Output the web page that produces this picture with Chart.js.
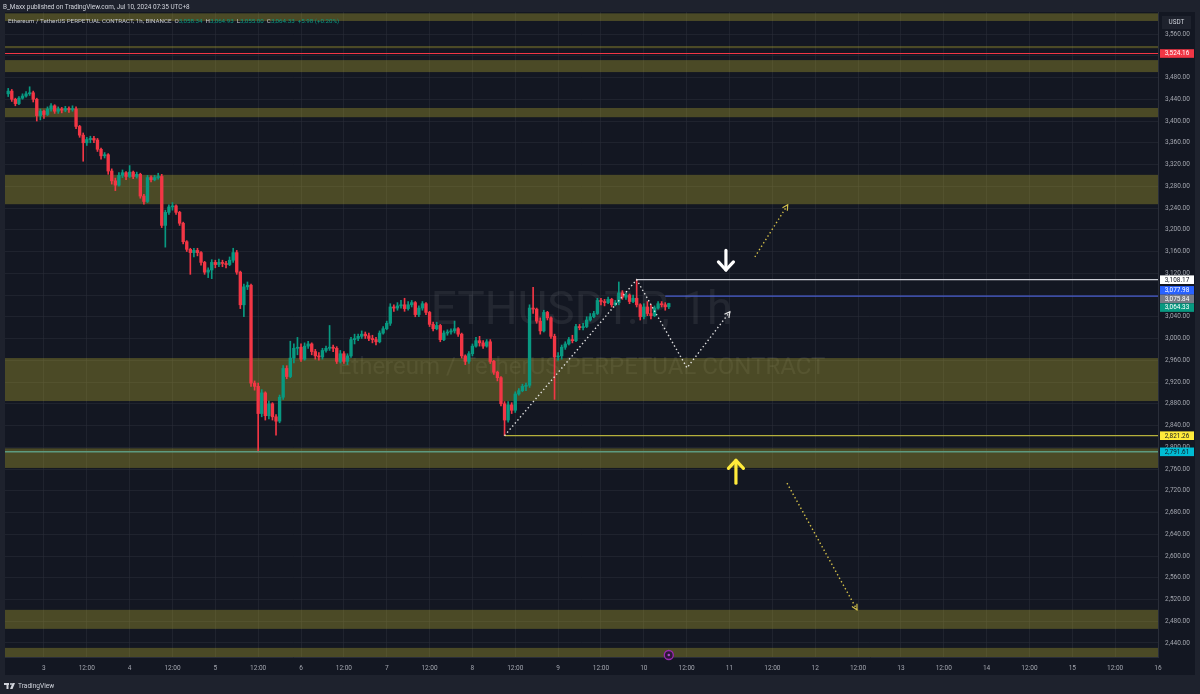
<!DOCTYPE html>
<html>
<head>
<meta charset="utf-8">
<script src="https://cdn.jsdelivr.net/npm/chart.js@4.4.1/dist/chart.umd.min.js"></script>
<style>
  html, body { margin: 0; padding: 0; background: #1e222d; overflow: hidden; }
  canvas { display: block; }
</style>
</head>
<body>
<canvas id="grafico" width="1200" height="694"></canvas>
<script>
// ETHUSDT.P 1h, Jul 2 14:00 -> Jul 10 07:00 (hours counted from Jul 3 00:00)
const firstHour = -10;
const firstOpen = 3450;
const closes = [
  3455, 3440, 3432, 3442, 3446, 3450, 3452, 3440, 3410, 3418,
  3412, 3422, 3428, 3418, 3422, 3420, 3423, 3421, 3422, 3390,
  3374, 3360, 3366, 3368, 3365, 3348, 3336, 3338, 3308, 3290,
  3282, 3300, 3305, 3298, 3306, 3298, 3302, 3262, 3252, 3296,
  3292, 3296, 3298, 3208, 3232, 3242, 3244, 3232, 3212, 3178,
  3164, 3158, 3162, 3158, 3140, 3122, 3126, 3140, 3136, 3140,
  3138, 3136, 3144, 3158, 3122, 3062, 3095, 3098, 2918, 2912,
  2862, 2900, 2858, 2880, 2856, 2848, 2892, 2945, 2930, 2964,
  2982, 2984, 2962, 2986, 2990, 2976, 2968, 2966, 2978, 2982,
  2984, 2982, 2958, 2972, 2958, 2968, 2998, 3000, 3004, 3008,
  3005, 3000, 2998, 2994, 3010, 3018, 3028, 3058, 3056, 3060,
  3062, 3055, 3062, 3066, 3044, 3056, 3064, 3048, 3026, 3018,
  3024, 2998, 3010, 3012, 3014, 3018, 3008, 2968, 2958, 2972,
  2986, 2996, 2992, 2986, 2994, 2958, 2938, 2928, 2880, 2850,
  2878, 2868, 2898, 2904, 2912, 2914, 3056, 3054, 3032, 3014,
  3048, 3038, 3004, 2966, 2968, 2984, 2990, 2998, 2996, 3022,
  3020, 3022, 3034, 3040, 3046, 3070, 3068, 3066, 3072, 3062,
  3066, 3084, 3076, 3080, 3068, 3074, 3062, 3040, 3058, 3046,
  3042, 3056, 3064, 3062, 3058.34, 3064.33
];
const highs = [
  3460, 3458, 3442, 3445, 3450, 3454, 3463, 3455, 3442, 3422,
  3420, 3426, 3432, 3430, 3426, 3425, 3427, 3426, 3428, 3426,
  3392, 3378, 3370, 3372, 3372, 3368, 3350, 3342, 3340, 3312,
  3295, 3305, 3310, 3307, 3318, 3308, 3306, 3304, 3265, 3300,
  3299, 3300, 3304, 3302, 3236, 3246, 3250, 3246, 3234, 3214,
  3180, 3166, 3166, 3166, 3160, 3142, 3130, 3145, 3144, 3146,
  3144, 3142, 3150, 3166, 3162, 3124, 3100, 3104, 3100, 2922,
  2918, 2906, 2902, 2885, 2882, 2860, 2896, 2950, 2950, 2995,
  2990, 3002, 2990, 2992, 2995, 2992, 2980, 2974, 2982, 2986,
  3024, 2988, 2985, 2978, 2976, 2972, 3002, 3008, 3008, 3014,
  3012, 3010, 3006, 3002, 3014, 3022, 3032, 3064, 3062, 3066,
  3070, 3074, 3068, 3070, 3068, 3060, 3068, 3066, 3050, 3030,
  3030, 3026, 3014, 3016, 3018, 3032, 3020, 3010, 2970, 2976,
  2990, 3002, 3004, 2996, 2998, 2998, 2960, 2940, 2930, 2884,
  2884, 2882, 2902, 2908, 2916, 2918, 3062, 3094, 3056, 3038,
  3052, 3050, 3040, 3008, 2974, 2988, 2994, 3002, 3006, 3026,
  3026, 3028, 3040, 3046, 3050, 3074, 3074, 3072, 3076, 3074,
  3070, 3104, 3088, 3084, 3082, 3080, 3108.17, 3064, 3064, 3068,
  3062, 3060, 3068, 3068, 3066, 3064.93
];
const lows = [
  3445, 3436, 3428, 3430, 3440, 3444, 3447, 3435, 3400, 3402,
  3405, 3410, 3418, 3414, 3414, 3415, 3417, 3416, 3418, 3386,
  3370, 3326, 3355, 3360, 3360, 3344, 3330, 3332, 3302, 3284,
  3272, 3280, 3296, 3292, 3296, 3294, 3295, 3258, 3247, 3250,
  3288, 3290, 3293, 3204, 3168, 3228, 3236, 3228, 3208, 3174,
  3160, 3118, 3150, 3152, 3135, 3118, 3112, 3110, 3130, 3132,
  3132, 3130, 3134, 3140, 3118, 3055, 3040, 3090, 2912, 2905,
  2791.61, 2856, 2850, 2852, 2850, 2822, 2845, 2888, 2926, 2928,
  2955, 2970, 2958, 2960, 2982, 2970, 2962, 2960, 2962, 2975,
  2978, 2976, 2954, 2955, 2954, 2952, 2965, 2990, 2996, 3000,
  3000, 2996, 2992, 2988, 2992, 3008, 3016, 3024, 3050, 3052,
  3056, 3050, 3052, 3058, 3040, 3040, 3052, 3044, 3022, 3014,
  3016, 2994, 2996, 3006, 3008, 3010, 3004, 2964, 2952, 2954,
  2968, 2984, 2986, 2982, 2984, 2954, 2934, 2922, 2876, 2821.26,
  2846, 2862, 2864, 2896, 2902, 2904, 2910, 3046, 3028, 3008,
  3012, 3034, 3000, 2888, 2960, 2962, 2980, 2988, 2992, 2994,
  3016, 3016, 3020, 3032, 3038, 3044, 3062, 3060, 3064, 3058,
  3060, 3062, 3072, 3072, 3064, 3066, 3058, 3034, 3036, 3042,
  3036, 3040, 3054, 3058, 3052, 3055.00
];
const opens = [firstOpen].concat(closes.slice(0, -1));

// axes
const priceTicks = [2440, 2480, 2520, 2560, 2600, 2640, 2680, 2720, 2760, 2800, 2840, 2880, 2920, 2960, 3000,
  3040, 3080, 3120, 3160, 3200, 3240, 3280, 3320, 3360, 3400, 3440, 3480, 3520, 3560];
const timeTickLabels = ['3', '12:00', '4', '12:00', '5', '12:00', '6', '12:00', '7', '12:00', '8', '12:00', '9', '12:00',
  '10', '12:00', '11', '12:00', '12', '12:00', '13', '12:00', '14', '12:00', '15', '12:00', '16'];
const xMin = -10.9, xMax = 312;
const yMin = 2414.25, yMax = 3600.5;

// drawings
const zoneLow  = [3584, 3534, 3490, 3407, 3247, 2885, 2762, 2466, 2400];
const zoneHigh = [3598, 3538, 3512, 3424, 3301, 2964, 2798, 2501, 2431];
const levelPrice = [3524.16, 3108.17, 3077.98, 2821.26, 2791.61];
const levelStart = [xMin, 166, 174, 129, xMin];
const levelColor = ['#f23645', '#c9ccd4', '#4a5fd1', '#b5b03c', '#5d9a80'];
const whitePathT = [129, 166, 180.1, 192.1];
const whitePathP = [2821.26, 3108.17, 2946, 3049];
const yellowUpT = [199.1, 208.3];
const yellowUpP = [3150, 3246];
const yellowDownT = [208.1, 227.7];
const yellowDownP = [2734, 2501];
const bigArrowT = [191, 193.8];
const bigArrowFrom = [3162, 2734];
const bigArrowTo = [3126, 2776];
const bigArrowColor = ['#ffffff', '#ffeb3b'];
const tagPrice = [3524.16, 3108.17, 3077.98, 3075.84, 3064.33, 2821.26, 2791.61];
const tagBg = ['#f23645', '#ffffff', '#2962ff', '#787b86', '#089981', '#ffeb3b', '#00bcd4'];
const tagFg = ['#ffffff', '#131722', '#ffffff', '#ffffff', '#ffffff', '#131722', '#131722'];
const legendValues = ['3,058.34', '3,064.93', '3,055.00', '3,064.33', '+5.98 (+0.20%)'];

const UP = '#089981';
const DOWN = '#f23645';
const GRID = 'rgba(42,46,57,0.55)';
const TXT = '#a3a6af';
const FONT = 'Roboto, "Liberation Sans", sans-serif';

const grafico = document.getElementById('grafico');
Chart.defaults.font.family = FONT;

const hours = closes.map((_, i) => firstHour + i);
const corDaVela = (ctx) => closes[ctx.dataIndex] >= opens[ctx.dataIndex] ? UP : DOWN;
const pts = (ts, ps) => ts.map((t, k) => ({ x: t, y: ps[k] }));

const datasets = [
  {
    type: 'bar', label: 'wicks',
    data: hours.map((t, i) => ({ x: t, y: [lows[i], highs[i]] })),
    backgroundColor: corDaVela, barThickness: 1, grouped: false, order: 3
  },
  {
    type: 'bar', label: 'bodies',
    data: hours.map((t, i) => ({ x: t, y: [opens[i], closes[i]] })),
    backgroundColor: corDaVela, barThickness: 2.7, minBarLength: 1, grouped: false, order: 2
  }
];
levelPrice.forEach((p, k) => {
  datasets.push({
    type: 'line', label: 'level' + k,
    data: [{ x: levelStart[k], y: p }, { x: xMax, y: p }],
    borderColor: levelColor[k], borderWidth: k === 4 ? 1.6 : 1.2, pointRadius: 0, order: 1
  });
});
const dotted = [
  { data: pts(whitePathT, whitePathP), color: 'rgba(235,235,235,0.95)' },
  { data: pts(yellowUpT, yellowUpP), color: '#d4c04a' },
  { data: pts(yellowDownT, yellowDownP), color: '#d4c04a' }
];
dotted.forEach((d, k) => {
  datasets.push({
    type: 'line', label: 'path' + k, data: d.data,
    borderColor: d.color, borderWidth: 1.4, borderDash: [1.4, 2.6], pointRadius: 0, order: 0
  });
});

function seta(ctx, x1, y1, x2, y2, len, spread) {
  const ang = Math.atan2(y2 - y1, x2 - x1);
  ctx.beginPath();
  ctx.moveTo(x2 - len * Math.cos(ang - spread), y2 - len * Math.sin(ang - spread));
  ctx.lineTo(x2, y2);
  ctx.lineTo(x2 - len * Math.cos(ang + spread), y2 - len * Math.sin(ang + spread));
  ctx.stroke();
}

const tvPlugin = {
  id: 'tv',
  beforeDraw(chart) {
    const { ctx, chartArea: a, scales } = chart;
    ctx.save();
    ctx.fillStyle = '#1e222d';
    ctx.fillRect(0, 0, chart.width, chart.height);
    ctx.fillStyle = '#131722';
    ctx.fillRect(a.left, a.top, scales.y.right - a.left, scales.x.bottom - a.top);
    ctx.restore();
  },
  beforeDatasetsDraw(chart) {
    const { ctx, chartArea: a, scales: { y } } = chart;
    ctx.save();
    ctx.beginPath();
    ctx.rect(a.left, a.top, a.width, a.height);
    ctx.clip();
    // watermark
    const cx = (a.left + a.right) / 2, cy = (a.top + a.bottom) / 2;
    ctx.fillStyle = 'rgba(255,255,255,0.07)';
    ctx.textAlign = 'center';
    ctx.textBaseline = 'middle';
    ctx.font = '46px ' + FONT;
    ctx.fillText('ETHUSDT.P, 1h', cx, cy - 22);
    ctx.font = '24px ' + FONT;
    ctx.fillText('Ethereum / TetherUS PERPETUAL CONTRACT', cx, cy + 33);
    // zones
    ctx.fillStyle = 'rgba(190,180,50,0.33)';
    zoneLow.forEach((lo, k) => {
      const y1 = y.getPixelForValue(zoneHigh[k]);
      const y2 = y.getPixelForValue(lo);
      ctx.fillRect(a.left, y1, a.width, y2 - y1);
    });
    ctx.restore();
  },
  afterDatasetsDraw(chart) {
    const { ctx, chartArea: a, scales: { x, y } } = chart;
    ctx.save();
    ctx.beginPath();
    ctx.rect(a.left, a.top, a.width, a.height);
    ctx.clip();
    // arrow heads of the dotted paths
    ctx.lineWidth = 1.2;
    dotted.forEach((d) => {
      const n = d.data.length;
      const p1 = d.data[n - 2], p2 = d.data[n - 1];
      ctx.strokeStyle = d.color;
      seta(ctx, x.getPixelForValue(p1.x), y.getPixelForValue(p1.y),
        x.getPixelForValue(p2.x), y.getPixelForValue(p2.y), 6, 0.5);
    });
    // thick arrows
    ctx.lineWidth = 3.2;
    ctx.lineCap = 'round';
    ctx.lineJoin = 'round';
    bigArrowT.forEach((t, k) => {
      const px = x.getPixelForValue(t);
      const y1 = y.getPixelForValue(bigArrowFrom[k]);
      const y2 = y.getPixelForValue(bigArrowTo[k]);
      ctx.strokeStyle = bigArrowColor[k];
      ctx.beginPath();
      ctx.moveTo(px, y1);
      ctx.lineTo(px, y2);
      ctx.stroke();
      seta(ctx, px, y1, px, y2, 11, 0.75);
    });
    ctx.restore();
  },
  afterDraw(chart) {
    const { ctx, chartArea: a, scales: { x, y } } = chart;
    ctx.save();
    // header
    ctx.textBaseline = 'middle';
    ctx.textAlign = 'left';
    ctx.font = '6.4px ' + FONT;
    ctx.fillStyle = '#d1d4dc';
    ctx.fillText('B_Maxx published on TradingView.com, Jul 10, 2024 07:35 UTC+8', 3, 7);
    // legend
    const parts = [
      ['Ethereum / TetherUS PERPETUAL CONTRACT, 1h, BINANCE  ', '#c3c6ce'],
      ['O', '#c3c6ce'], [legendValues[0] + '  ', UP],
      ['H', '#c3c6ce'], [legendValues[1] + '  ', UP],
      ['L', '#c3c6ce'], [legendValues[2] + '  ', UP],
      ['C', '#c3c6ce'], [legendValues[3] + '  ', UP],
      [legendValues[4], UP]
    ];
    ctx.font = '6.2px ' + FONT;
    let lx = 8;
    parts.forEach(([txt, col]) => {
      ctx.fillStyle = col;
      ctx.fillText(txt, lx, 21);
      lx += ctx.measureText(txt).width;
    });
    // USDT box
    ctx.fillStyle = '#1e222d';
    ctx.fillRect(y.left + 4, 16, 29, 13);
    ctx.fillStyle = '#d1d4dc';
    ctx.textAlign = 'center';
    ctx.font = '6.4px ' + FONT;
    ctx.fillText('USDT', y.left + 18.5, 22.5);
    // price tags (spread apart where they overlap)
    const H = 8.6;
    const tags = tagPrice.map((p, k) => ({ k, py: y.getPixelForValue(p) })).sort((m, n) => m.py - n.py);
    for (let it = 0; it < 60; it++) {
      for (let j = 1; j < tags.length; j++) {
        const d = tags[j].py - tags[j - 1].py;
        if (d < H) {
          const push = (H - d) / 2;
          tags[j - 1].py -= push;
          tags[j].py += push;
        }
      }
    }
    ctx.font = '6.4px ' + FONT;
    tags.forEach(({ k, py }) => {
      ctx.fillStyle = tagBg[k];
      ctx.fillRect(y.left + 2, py - H / 2, 34, H);
      ctx.fillStyle = tagFg[k];
      ctx.fillText(tagPrice[k].toLocaleString('en-US', { minimumFractionDigits: 2, maximumFractionDigits: 2 }), y.left + 19, py + 0.3);
    });
    // event marker on the last bar
    const mx = x.getPixelForValue(hours[hours.length - 1]);
    ctx.beginPath();
    ctx.arc(mx, a.bottom - 2, 4.5, 0, Math.PI * 2);
    ctx.fillStyle = '#2b1838';
    ctx.fill();
    ctx.lineWidth = 1.3;
    ctx.strokeStyle = '#9c27b0';
    ctx.stroke();
    ctx.beginPath();
    ctx.arc(mx, a.bottom - 2, 1.3, 0, Math.PI * 2);
    ctx.fillStyle = '#b04cc8';
    ctx.fill();
    // footer logo
    const fy = 686;
    ctx.fillStyle = '#d1d4dc';
    ctx.fillRect(4, fy - 3, 5, 2);
    ctx.fillRect(6.5, fy - 3, 2, 6);
    ctx.beginPath();
    ctx.arc(11, fy - 2, 1, 0, Math.PI * 2);
    ctx.fill();
    ctx.beginPath();
    ctx.moveTo(12.5, fy - 3);
    ctx.lineTo(15, fy - 3);
    ctx.lineTo(12.5, fy + 3);
    ctx.lineTo(10, fy + 3);
    ctx.closePath();
    ctx.fill();
    ctx.textAlign = 'left';
    ctx.font = '6.6px ' + FONT;
    ctx.fillText('TradingView', 18, fy);
    ctx.restore();
  }
};

new Chart(grafico, {
  type: 'bar',
  data: { datasets },
  options: {
    responsive: false,
    animation: false,
    events: [],
    layout: { padding: { left: 5, top: 12, right: 5, bottom: 19 } },
    plugins: { legend: { display: false }, tooltip: { enabled: false } },
    scales: {
      x: {
        type: 'linear', min: xMin, max: xMax, offset: false,
        grid: { color: GRID, drawTicks: false, offset: false },
        border: { color: '#2a2e39' },
        ticks: {
          autoSkip: false, maxRotation: 0, padding: 7, color: TXT,
          font: { size: 6.5 },
          callback: (v, i) => timeTickLabels[i]
        },
        afterBuildTicks: (s) => { s.ticks = timeTickLabels.map((_, k) => ({ value: k * 12 })); },
        afterFit: (s) => { s.height = 18; }
      },
      y: {
        type: 'linear', position: 'right', min: yMin, max: yMax, beginAtZero: false,
        grid: { color: GRID, drawTicks: false },
        border: { color: '#2a2e39' },
        ticks: {
          crossAlign: 'center', padding: 7, color: TXT,
          font: { size: 6.5 },
          callback: (v) => v.toLocaleString('en-US', { minimumFractionDigits: 2, maximumFractionDigits: 2 })
        },
        afterBuildTicks: (s) => { s.ticks = priceTicks.map((v) => ({ value: v })); },
        afterFit: (s) => { s.width = 37; }
      }
    }
  },
  plugins: [tvPlugin]
});
</script>
</body>
</html>
